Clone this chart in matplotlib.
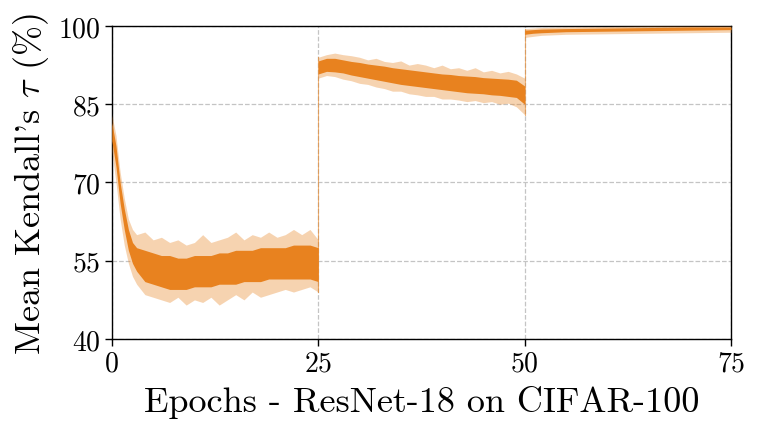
import numpy as np
import matplotlib
matplotlib.use("Agg")
import matplotlib.pyplot as plt

plt.rcParams['font.family'] = 'cmr10'
plt.rcParams['mathtext.fontset'] = 'cm'
plt.rcParams['axes.unicode_minus'] = False
plt.rcParams['axes.formatter.use_mathtext'] = True

# envelope of the noisy trace (epochs, Kendall tau %)
ep1 = [0, 0.5, 1, 1.5, 2, 2.5, 3, 4, 5, 6, 7, 8, 9, 10, 11, 12, 13, 14, 15,
       16, 17, 18, 19, 20, 21, 22, 23, 24, 25]
hi_out1 = [83, 79, 72, 67, 63, 61, 60, 60.5, 59, 59.5, 58.5, 59, 58, 58.5, 60,
           58.5, 59, 59.5, 60.5, 59, 60, 59.5, 60.5, 59.5, 60, 61, 60, 61, 59]
hi_core1 = [81.5, 77, 70, 65, 61, 58.5, 57.5, 57, 56.5, 56, 56, 55.5, 55.5, 56,
            56, 56, 56.5, 56.5, 57, 57, 57, 57.5, 57.5, 57.5, 57.5, 58, 58, 58, 57.5]
lo_core1 = [78, 73, 66, 61, 57, 54.5, 53, 51, 50.5, 50, 49.5, 49.5, 49.5, 50,
            50, 50, 50.5, 50.5, 50.5, 51, 51, 51, 51.5, 51.5, 51.5, 51.5, 51.5, 51.5, 51]
lo_out1 = [76, 70, 63, 58, 54.5, 52, 50.5, 48.5, 48, 47.5, 47, 48, 46.5, 47.5,
           47, 48, 46.5, 47.5, 48.5, 47.5, 49, 48, 48.5, 49, 49.5, 49, 49.5, 50, 49]

ep2 = list(range(25, 51))
hi_out2 = [94, 94.5, 94.8, 94.5, 94.3, 94, 93.5, 93.8, 93.2, 93, 93.3, 92.5, 92.8,
           92.5, 92, 92.5, 91.8, 92, 91.5, 92, 91.2, 91.5, 91, 91.3, 90.8, 90]
hi_core2 = [93.3, 93.8, 93.8, 93.5, 93.2, 93, 92.7, 92.5, 92.3, 92, 91.8, 91.6, 91.4,
            91.2, 91, 90.8, 90.7, 90.5, 90.4, 90.3, 90.1, 90, 89.9, 89.8, 89.6, 88.5]
lo_core2 = [90.8, 91.3, 91.2, 91, 90.6, 90.3, 90, 89.7, 89.4, 89.1, 88.8, 88.6, 88.4,
            88.2, 88, 87.8, 87.6, 87.4, 87.2, 87.1, 87, 86.8, 86.7, 86.5, 86.3, 85]
lo_out2 = [90, 90.5, 90.3, 89.8, 89.5, 89, 88.8, 88.3, 88, 87.5, 87.5, 87, 86.8,
           86.5, 86.5, 86, 86, 85.8, 85.5, 85.7, 85.3, 85.5, 85, 85.2, 84.5, 83]

ep3 = [50, 51, 52, 55, 60, 65, 70, 75]
hi_out3 = [99.5, 99.6, 99.7, 99.8, 99.9, 100, 100, 100]
hi_core3 = [99.2, 99.3, 99.4, 99.5, 99.6, 99.7, 99.8, 99.8]
lo_core3 = [98.4, 98.6, 98.7, 98.9, 99, 99.1, 99.2, 99.3]
lo_out3 = [97.8, 98, 98.2, 98.4, 98.5, 98.6, 98.7, 98.8]

x_ticks = [0, 25, 50, 75]
y_ticks = [40, 55, 70, 85, 100]

color = '#e8821f'

fig = plt.figure(figsize=(7.61, 4.35), dpi=100)
ax = fig.add_axes([0.147, 0.2184, 0.8136, 0.7196])

phases = [(ep1, hi_out1, hi_core1, lo_core1, lo_out1),
          (ep2, hi_out2, hi_core2, lo_core2, lo_out2),
          (ep3, hi_out3, hi_core3, lo_core3, lo_out3)]
for ep, ho, hc, lc, lo in phases:
    ax.fill_between(ep, lo, ho, color=color, alpha=0.35, lw=0, zorder=3)
    ax.fill_between(ep, lc, hc, color=color, alpha=1.0, lw=0, zorder=4)

# jumps between phases
ax.plot([25, 25], [lo_out1[-1], hi_out2[0]], color=color, lw=0.8, alpha=0.6, zorder=3)
ax.plot([50, 50], [lo_out2[-1], hi_out3[0]], color=color, lw=0.8, alpha=0.6, zorder=3)

ax.set_xlim(0, 75)
ax.set_ylim(40, 100)
ax.set_xticks(x_ticks)
ax.set_yticks(y_ticks)
ax.grid(True, linestyle='--', color='#c4c4c4', lw=0.9, zorder=0)
ax.tick_params(labelsize=20, length=5, width=1, pad=3)
for s in ax.spines.values():
    s.set_linewidth(1.0)

ax.set_xlabel('Epochs - ResNet-18 on CIFAR-100', fontsize=26, labelpad=6)
ax.set_ylabel("Mean Kendall's $\\tau$ (%)", fontsize=26, labelpad=5)

fig.savefig('out.png', dpi=100)
